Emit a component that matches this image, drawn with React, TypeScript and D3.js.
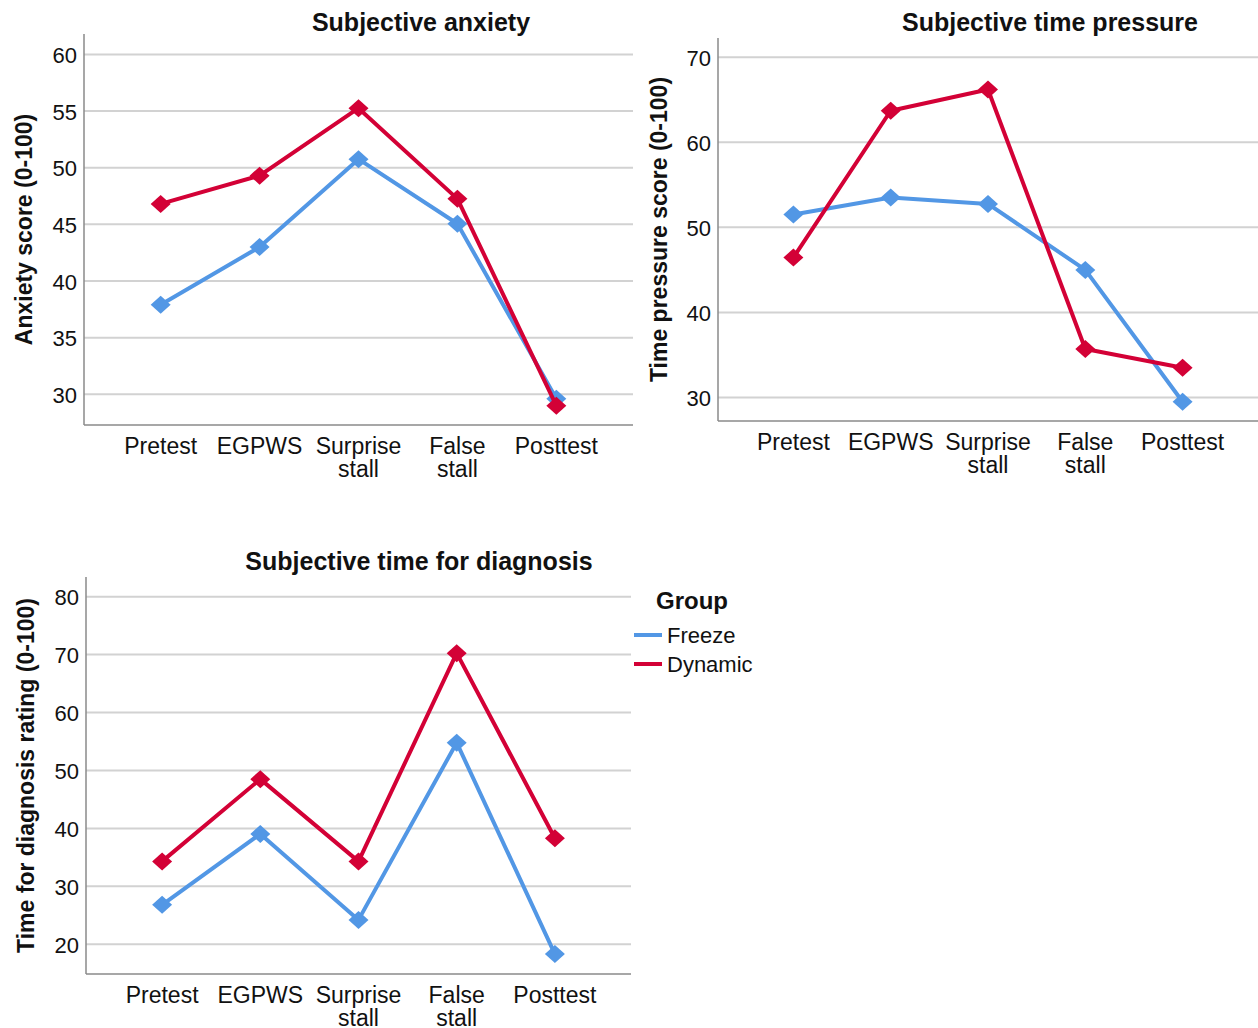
import React from "react";
import * as d3 from "d3";

const categories = ["Pretest", "EGPWS", "Surprise\nstall", "False\nstall", "Posttest"];
const groups = ["Freeze", "Dynamic"];
const groupColors = ["#5297e5", "#d30136"];

const anxietyFreeze = [37.9, 43.0, 50.75, 45.05, 29.6];
const anxietyDynamic = [46.8, 49.3, 55.25, 47.25, 29.0];
const anxietyTicks = [30, 35, 40, 45, 50, 55, 60];

const pressureFreeze = [51.5, 53.5, 52.75, 45.0, 29.5];
const pressureDynamic = [46.45, 63.7, 66.2, 35.7, 33.5];
const pressureTicks = [30, 40, 50, 60, 70];

const diagnosisFreeze = [26.8, 39.05, 24.2, 54.8, 18.3];
const diagnosisDynamic = [34.3, 48.5, 34.3, 70.25, 38.3];
const diagnosisTicks = [20, 30, 40, 50, 60, 70, 80];

const FONT = "Liberation Sans, Arial, sans-serif";

type PanelProps = {
  title: string;
  titleX: number;
  titleY: number;
  yLabel: string;
  yLabelX: number;
  left: number;
  right: number;
  top: number;
  bottom: number;
  domain: [number, number];
  ticks: number[];
  series: number[][];
};

function Panel(p: PanelProps) {
  const y = d3.scaleLinear().domain(p.domain).range([p.bottom, p.top]);
  const x = d3.scalePoint<string>().domain(categories).range([p.left, p.right]).padding(0.775);
  const line = d3
    .line<number>()
    .x((_, i) => x(categories[i]) as number)
    .y((d) => y(d));
  const diamond = (cx: number, cy: number) =>
    `M${cx},${cy - 9}L${cx + 10},${cy}L${cx},${cy + 9}L${cx - 10},${cy}Z`;
  return (
    <g>
      <text x={p.titleX} y={p.titleY} textAnchor="middle" fontFamily={FONT} fontWeight="bold" fontSize={25} fill="#111">
        {p.title}
      </text>
      {p.ticks.map((t) => (
        <g key={t}>
          <line x1={p.left} x2={p.right} y1={y(t)} y2={y(t)} stroke="#d2d2d2" strokeWidth={2} />
          <text x={p.left - 7} y={y(t)} dy="0.4em" textAnchor="end" fontFamily={FONT} fontSize={22} fill="#111">
            {t}
          </text>
        </g>
      ))}
      <line x1={p.left} x2={p.left} y1={p.top} y2={p.bottom} stroke="#8a8a8a" strokeWidth={1.5} />
      <line x1={p.left} x2={p.right} y1={p.bottom} y2={p.bottom} stroke="#8a8a8a" strokeWidth={1.5} />
      {categories.map((c) => (
        <text key={c} x={x(c)} y={p.bottom + 29} textAnchor="middle" fontFamily={FONT} fontSize={23} fill="#111">
          {c.split("\n").map((s, i) => (
            <tspan key={i} x={x(c)} dy={i === 0 ? 0 : 23}>
              {s}
            </tspan>
          ))}
        </text>
      ))}
      <text
        transform={`translate(${p.yLabelX},${(p.top + p.bottom) / 2}) rotate(-90)`}
        textAnchor="middle"
        fontFamily={FONT}
        fontWeight="bold"
        fontSize={23}
        fill="#111"
      >
        {p.yLabel}
      </text>
      {p.series.map((s, si) => (
        <g key={si}>
          <path d={line(s) as string} fill="none" stroke={groupColors[si]} strokeWidth={4} strokeLinejoin="round" />
          {s.map((v, i) => (
            <path key={i} d={diamond(x(categories[i]) as number, y(v))} fill={groupColors[si]} />
          ))}
        </g>
      ))}
    </g>
  );
}

export default function App() {
  return (
    <svg width={1258} height={1028} style={{ position: "absolute", left: 0, top: 0, background: "#fff" }}>
      <rect width={1258} height={1028} fill="#fff" />
      <Panel
        title="Subjective anxiety"
        titleX={421}
        titleY={31}
        yLabel="Anxiety score (0-100)"
        yLabelX={32}
        left={84}
        right={633}
        top={34}
        bottom={425}
        domain={[27.29, 61.8]}
        ticks={anxietyTicks}
        series={[anxietyFreeze, anxietyDynamic]}
      />
      <Panel
        title="Subjective time pressure"
        titleX={1050}
        titleY={31}
        yLabel="Time pressure score (0-100)"
        yLabelX={667}
        left={718}
        right={1258}
        top={38}
        bottom={421}
        domain={[27.24, 72.25]}
        ticks={pressureTicks}
        series={[pressureFreeze, pressureDynamic]}
      />
      <Panel
        title="Subjective time for diagnosis"
        titleX={419}
        titleY={570}
        yLabel="Time for diagnosis rating (0-100)"
        yLabelX={34}
        left={86}
        right={631}
        top={577}
        bottom={974}
        domain={[14.86, 83.4]}
        ticks={diagnosisTicks}
        series={[diagnosisFreeze, diagnosisDynamic]}
      />
      <g>
        <text x={656} y={609} fontFamily={FONT} fontWeight="bold" fontSize={24} fill="#111">
          Group
        </text>
        {groups.map((g, i) => (
          <g key={g}>
            <line x1={634} x2={662} y1={635 + i * 29} y2={635 + i * 29} stroke={groupColors[i]} strokeWidth={4} />
            <text x={667} y={635 + i * 29} dy="0.36em" fontFamily={FONT} fontSize={22} fill="#111">
              {g}
            </text>
          </g>
        ))}
      </g>
    </svg>
  );
}
